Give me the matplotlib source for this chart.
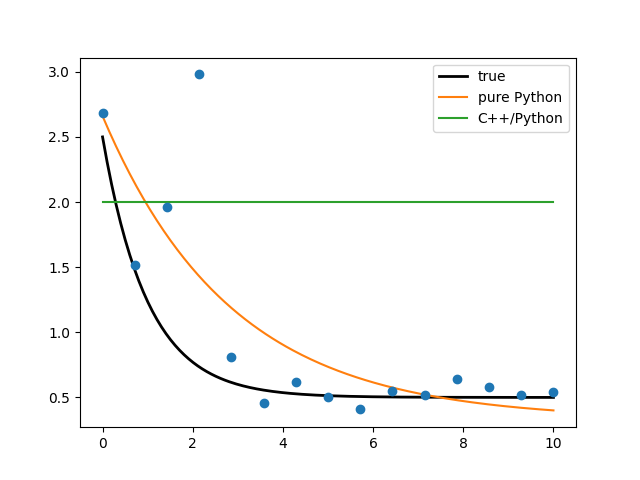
import numpy as np
import matplotlib
matplotlib.use("Agg")
import matplotlib.pyplot as plt

# measured samples
x_data = [0.0, 0.714, 1.429, 2.143, 2.857, 3.571, 4.286, 5.0,
          5.714, 6.429, 7.143, 7.857, 8.571, 9.286, 10.0]
y_data = [2.68, 1.52, 1.965, 2.98, 0.81, 0.46, 0.62, 0.50,
          0.41, 0.55, 0.515, 0.645, 0.58, 0.515, 0.545]

# model a*exp(-b*x)+c, parameters
true_params = (2.0, 1.0, 0.5)
python_params = (2.33, 0.35, 0.33)
cpp_level = 2.0

x_min, x_max = 0, 10


def model(x, a, b, c):
    return a * np.exp(-b * x) + c


xs = np.linspace(x_min, x_max, 200)

fig = plt.figure(figsize=(6.4, 4.8), dpi=100)
ax = fig.add_subplot(111)
ax.plot(xs, model(xs, *true_params), color="black", lw=2, label="true")
ax.plot(xs, model(xs, *python_params), color="#ff7f0e", label="pure Python")
ax.plot([x_min, x_max], [cpp_level, cpp_level], color="#2ca02c", label="C++/Python")
ax.scatter(x_data, y_data, color="#1f77b4", zorder=3)
ax.legend(loc="upper right")
fig.savefig("out.png")
